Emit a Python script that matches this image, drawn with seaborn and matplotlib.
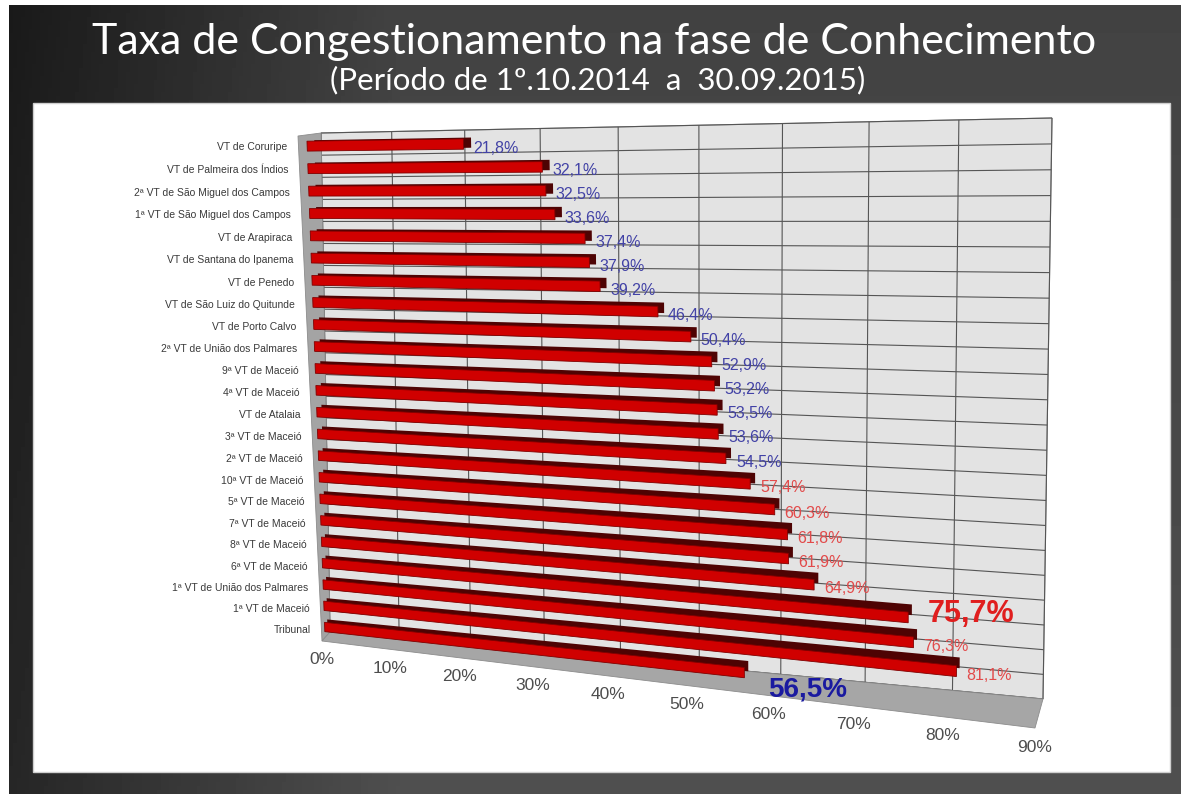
import numpy as np
import pandas as pd
import matplotlib
matplotlib.use("Agg")
import matplotlib.pyplot as plt
import matplotlib.transforms as mtransforms
from matplotlib.patches import Polygon, Rectangle
from matplotlib.collections import LineCollection
import seaborn as sns

# dados (de cima para baixo)
varas = [
    "VT de Coruripe", "VT de Palmeira dos Índios", "2ª VT de São Miguel dos Campos",
    "1ª VT de São Miguel dos Campos", "VT de Arapiraca", "VT de Santana do Ipanema",
    "VT de Penedo", "VT de São Luiz do Quitunde", "VT de Porto Calvo",
    "2ª VT de União dos Palmares", "9ª VT de Maceió", "4ª VT de Maceió",
    "VT de Atalaia", "3ª VT de Maceió", "2ª VT de Maceió", "10ª VT de Maceió",
    "5ª VT de Maceió", "7ª VT de Maceió", "8ª VT de Maceió", "6ª VT de Maceió",
    "1ª VT de União dos Palmares", "1ª VT de Maceió", "Tribunal",
]
taxas = [21.8, 32.1, 32.5, 33.6, 37.4, 37.9, 39.2, 46.4, 50.4, 52.9, 53.2, 53.5,
         53.6, 54.5, 57.4, 60.3, 61.8, 61.9, 64.9, 75.7, 76.3, 81.1, 56.5]
eixo_ticks = [0, 10, 20, 30, 40, 50, 60, 70, 80, 90]

titulo = "Taxa de Congestionamento na fase de Conhecimento"
subtitulo = "(Período de 1º.10.2014  a  30.09.2015)"

W, H = 1189, 794
n = len(varas)
xmax = eixo_ticks[-1]

# cantos da parede do fundo e do plano da frente (pixels da imagem)
fundo = np.array([(321, 133), (1052, 118), (1043, 699), (330, 632)], float)
frente = np.array([(298, 136), (1040, 126), (1035, 728), (322, 641)], float)
cantos = np.array([(0, -0.5), (xmax, -0.5), (xmax, n - 0.5), (0, n - 0.5)], float)


def homografia(src, dst):
    A = []
    for (x, y), (X, Y) in zip(src, dst):
        A.append([x, y, 1, 0, 0, 0, -X * x, -X * y, -X])
        A.append([0, 0, 0, x, y, 1, -Y * x, -Y * y, -Y])
    _, _, vt = np.linalg.svd(np.array(A, float))
    return vt[-1].reshape(3, 3)


class Plano(mtransforms.Transform):
    input_dims = 2
    output_dims = 2
    is_separable = False
    has_inverse = False

    def __init__(self, M):
        super().__init__()
        self.M = M

    def transform_non_affine(self, values):
        v = np.asarray(values, dtype=float)
        xy = v.reshape(-1, 2)
        p = np.column_stack([xy, np.ones(len(xy))]) @ self.M.T
        out = np.column_stack([p[:, 0] / p[:, 2] / W, 1 - p[:, 1] / p[:, 2] / H])
        return out.reshape(v.shape)


def plano_frac(d):
    return Plano(homografia(cantos, fundo + d * (frente - fundo)))


fig = plt.figure(figsize=(W / 100, H / 100), dpi=100, facecolor="white")


def plano(d):
    return plano_frac(d) + fig.transFigure


# fundo do slide
bg = fig.add_axes([9 / W, 0, (W - 17) / W, (H - 5) / H], zorder=0)
gx = np.linspace(0, 1, 300)
gy = np.linspace(0, 1, 200)
GX, GY = np.meshgrid(gx, gy)
grad = 0.10 + 0.16 * np.clip(GX * 3, 0, 1) + 0.05 * GY
bg.imshow(grad, cmap="gray", vmin=0, vmax=1, aspect="auto", extent=[0, 1, 0, 1])
bg.set_axis_off()
fig.add_artist(Rectangle((33 / W, 1 - 772 / H), (1170 - 33) / W, (772 - 103) / H,
                         transform=fig.transFigure, facecolor="white",
                         edgecolor="#cfcfcf", lw=1, zorder=1))

fig.text(0.5, 1 - 42 / H, titulo, ha="center", va="center", color="white",
         fontsize=31, family="Lato")
fig.text(0.503, 1 - 80 / H, subtitulo, ha="center", va="center", color="white",
         fontsize=22.5, family="Lato")

# parede, grade, lateral e chão (coordenadas da figura)
pb, pf = plano_frac(0), plano_frac(1)
fig.add_artist(Polygon(pb.transform(cantos), closed=True, transform=fig.transFigure,
                       facecolor="#e3e3e3", edgecolor="#9a9a9a", lw=0.8, zorder=1.2))
segs = [pb.transform([(t, -0.5), (t, n - 0.5)]) for t in eixo_ticks]
segs += [pb.transform([(0, k - 0.5), (xmax, k - 0.5)]) for k in range(n + 1)]
fig.add_artist(LineCollection(segs, colors="#555555", linewidths=0.8,
                              transform=fig.transFigure, zorder=1.3))
lateral = np.vstack([pb.transform([(0, -0.5), (0, n - 0.5)]),
                     pf.transform([(0, n - 0.5), (0, -0.5)])])
chao = np.vstack([pb.transform([(0, n - 0.5), (xmax, n - 0.5)]),
                  pf.transform([(xmax, n - 0.5), (0, n - 0.5)])])
fig.add_artist(Polygon(lateral, closed=True, transform=fig.transFigure,
                       facecolor="#a4a4a4", edgecolor="#8c8c8c", lw=0.6, zorder=1.4))
fig.add_artist(Polygon(chao, closed=True, transform=fig.transFigure,
                       facecolor="#a6a6a6", edgecolor="#8c8c8c", lw=0.6, zorder=1.4))

ax = fig.add_axes([0, 0, 1, 1], zorder=2)
ax.set_axis_off()

# barras: sombra (fundo) e face da frente
df = pd.DataFrame({"vara": varas, "taxa": taxas})
sns.barplot(data=df, x="taxa", y="vara", orient="h", color="#4e0303", width=0.44,
            saturation=1, errorbar=None, ax=ax)
n_sombra = len(ax.patches)
sns.barplot(data=df, x="taxa", y="vara", orient="h", color="#d00000", width=0.44,
            saturation=1, errorbar=None, ax=ax)
barras = list(ax.patches)
for p in barras[:n_sombra]:
    p.set_transform(plano(0.3))
    p.set_clip_on(False)
    p.set_zorder(3)
for p in barras[n_sombra:]:
    p.set_transform(plano(0.62))
    p.set_clip_on(False)
    p.set_zorder(4)
    p.set_edgecolor("#800000")
    p.set_linewidth(0.6)
ax.set_axis_off()

# rótulos das varas
for i, nome in enumerate(varas):
    ax.annotate(nome, xy=(0, i), xycoords=plano(1), xytext=(-11, 0),
                textcoords="offset pixels", ha="right", va="center",
                fontsize=7.5, color="#3a3a3a", family="Liberation Sans",
                annotation_clip=False)

# rótulos dos valores
ref = taxas[varas.index("Tribunal")]
destaques = {"6ª VT de Maceió": ("#e01e1e", 22, (20, 3)),
             "Tribunal": ("#1a1aa0", 20, (24, -17))}
for i, (nome, v) in enumerate(zip(varas, taxas)):
    txt = f"{v:.1f}".replace(".", ",") + "%"
    if nome in destaques:
        cor, fs, off = destaques[nome]
        peso = "bold"
    else:
        cor = "#e24a4a" if v > ref else "#4242a6"
        fs, off, peso = 11.5, (10, -4), "normal"
    ax.annotate(txt, xy=(v, i), xycoords=plano(0.62), xytext=off,
                textcoords="offset pixels", ha="left", va="center",
                fontsize=fs, color=cor, fontweight=peso, family="Liberation Sans",
                zorder=6, annotation_clip=False)

# eixo percentual
for t in eixo_ticks:
    ax.annotate(f"{t}%", xy=(t, n - 0.5), xycoords=plano(1), xytext=(0, -19),
                textcoords="offset pixels", ha="center", va="center",
                fontsize=12.5, color="#4d4d4d", family="Liberation Sans",
                annotation_clip=False)

fig.savefig("out.png", dpi=100, facecolor=fig.get_facecolor())
